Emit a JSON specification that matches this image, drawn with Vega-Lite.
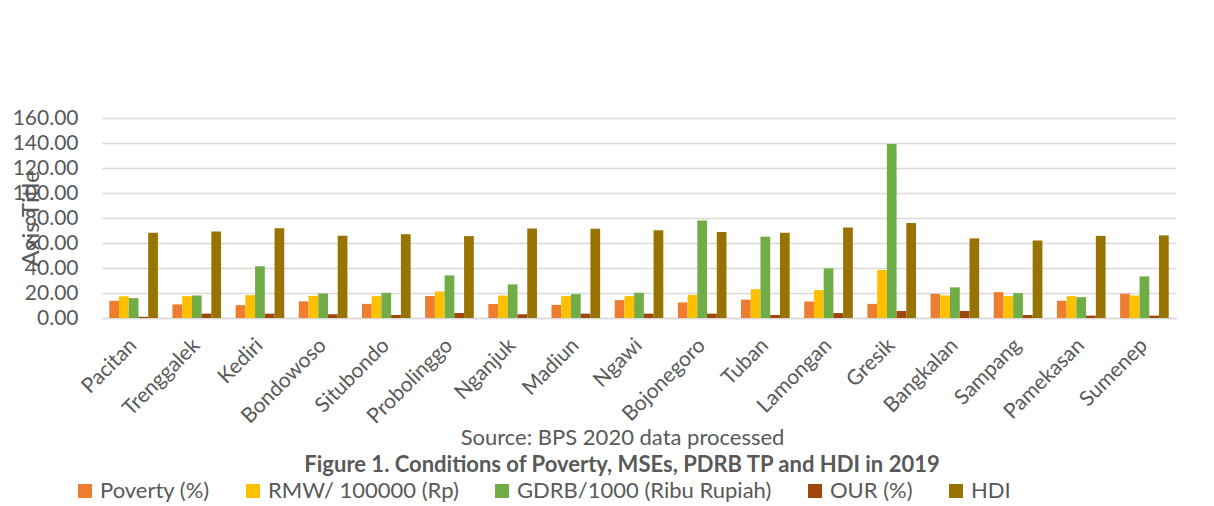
{
  "$schema": "https://vega.github.io/schema/vega-lite/v6.json",
  "width": 1074,
  "height": 200,
  "autosize": {"type": "none"},
  "padding": {"left": 102, "top": 118, "right": 38, "bottom": 188},
  "background": "white",
  "config": {"font": "Lato", "view": {"stroke": null}},
  "title": {
    "text": "Figure 1. Conditions of Poverty, MSEs, PDRB TP and HDI in 2019",
    "orient": "bottom",
    "anchor": "middle",
    "frame": "group",
    "fontSize": 22,
    "fontWeight": "bold",
    "color": "#595959",
    "dx": -17,
    "offset": -47
  },
  "data": {
    "values": [
      {"region": "Pacitan", "series": "Poverty (%)", "value": 13.7},
      {"region": "Pacitan", "series": "RMW/ 100000 (Rp)", "value": 17.5},
      {"region": "Pacitan", "series": "GDRB/1000 (Ribu Rupiah)", "value": 15.9},
      {"region": "Pacitan", "series": "OUR (%)", "value": 1.0},
      {"region": "Pacitan", "series": "HDI", "value": 68.2},
      {"region": "Trenggalek", "series": "Poverty (%)", "value": 10.9},
      {"region": "Trenggalek", "series": "RMW/ 100000 (Rp)", "value": 17.5},
      {"region": "Trenggalek", "series": "GDRB/1000 (Ribu Rupiah)", "value": 18.0},
      {"region": "Trenggalek", "series": "OUR (%)", "value": 3.5},
      {"region": "Trenggalek", "series": "HDI", "value": 69.3},
      {"region": "Kediri", "series": "Poverty (%)", "value": 10.3},
      {"region": "Kediri", "series": "RMW/ 100000 (Rp)", "value": 18.3},
      {"region": "Kediri", "series": "GDRB/1000 (Ribu Rupiah)", "value": 41.4},
      {"region": "Kediri", "series": "OUR (%)", "value": 3.5},
      {"region": "Kediri", "series": "HDI", "value": 71.8},
      {"region": "Bondowoso", "series": "Poverty (%)", "value": 13.3},
      {"region": "Bondowoso", "series": "RMW/ 100000 (Rp)", "value": 17.7},
      {"region": "Bondowoso", "series": "GDRB/1000 (Ribu Rupiah)", "value": 19.6},
      {"region": "Bondowoso", "series": "OUR (%)", "value": 3.0},
      {"region": "Bondowoso", "series": "HDI", "value": 65.8},
      {"region": "Situbondo", "series": "Poverty (%)", "value": 11.3},
      {"region": "Situbondo", "series": "RMW/ 100000 (Rp)", "value": 17.5},
      {"region": "Situbondo", "series": "GDRB/1000 (Ribu Rupiah)", "value": 20.2},
      {"region": "Situbondo", "series": "OUR (%)", "value": 2.4},
      {"region": "Situbondo", "series": "HDI", "value": 67.0},
      {"region": "Probolinggo", "series": "Poverty (%)", "value": 17.6},
      {"region": "Probolinggo", "series": "RMW/ 100000 (Rp)", "value": 21.2},
      {"region": "Probolinggo", "series": "GDRB/1000 (Ribu Rupiah)", "value": 34.1},
      {"region": "Probolinggo", "series": "OUR (%)", "value": 4.0},
      {"region": "Probolinggo", "series": "HDI", "value": 65.5},
      {"region": "Nganjuk", "series": "Poverty (%)", "value": 11.2},
      {"region": "Nganjuk", "series": "RMW/ 100000 (Rp)", "value": 18.0},
      {"region": "Nganjuk", "series": "GDRB/1000 (Ribu Rupiah)", "value": 26.9},
      {"region": "Nganjuk", "series": "OUR (%)", "value": 3.0},
      {"region": "Nganjuk", "series": "HDI", "value": 71.6},
      {"region": "Madiun", "series": "Poverty (%)", "value": 10.5},
      {"region": "Madiun", "series": "RMW/ 100000 (Rp)", "value": 17.5},
      {"region": "Madiun", "series": "GDRB/1000 (Ribu Rupiah)", "value": 19.1},
      {"region": "Madiun", "series": "OUR (%)", "value": 3.5},
      {"region": "Madiun", "series": "HDI", "value": 71.5},
      {"region": "Ngawi", "series": "Poverty (%)", "value": 14.3},
      {"region": "Ngawi", "series": "RMW/ 100000 (Rp)", "value": 17.5},
      {"region": "Ngawi", "series": "GDRB/1000 (Ribu Rupiah)", "value": 20.2},
      {"region": "Ngawi", "series": "OUR (%)", "value": 3.5},
      {"region": "Ngawi", "series": "HDI", "value": 70.3},
      {"region": "Bojonegoro", "series": "Poverty (%)", "value": 12.5},
      {"region": "Bojonegoro", "series": "RMW/ 100000 (Rp)", "value": 18.5},
      {"region": "Bojonegoro", "series": "GDRB/1000 (Ribu Rupiah)", "value": 78.0},
      {"region": "Bojonegoro", "series": "OUR (%)", "value": 3.5},
      {"region": "Bojonegoro", "series": "HDI", "value": 68.9},
      {"region": "Tuban", "series": "Poverty (%)", "value": 14.7},
      {"region": "Tuban", "series": "RMW/ 100000 (Rp)", "value": 23.1},
      {"region": "Tuban", "series": "GDRB/1000 (Ribu Rupiah)", "value": 65.1},
      {"region": "Tuban", "series": "OUR (%)", "value": 2.4},
      {"region": "Tuban", "series": "HDI", "value": 68.3},
      {"region": "Lamongan", "series": "Poverty (%)", "value": 13.2},
      {"region": "Lamongan", "series": "RMW/ 100000 (Rp)", "value": 22.3},
      {"region": "Lamongan", "series": "GDRB/1000 (Ribu Rupiah)", "value": 39.8},
      {"region": "Lamongan", "series": "OUR (%)", "value": 4.0},
      {"region": "Lamongan", "series": "HDI", "value": 72.4},
      {"region": "Gresik", "series": "Poverty (%)", "value": 11.3},
      {"region": "Gresik", "series": "RMW/ 100000 (Rp)", "value": 38.4},
      {"region": "Gresik", "series": "GDRB/1000 (Ribu Rupiah)", "value": 139.2},
      {"region": "Gresik", "series": "OUR (%)", "value": 5.6},
      {"region": "Gresik", "series": "HDI", "value": 76.1},
      {"region": "Bangkalan", "series": "Poverty (%)", "value": 19.3},
      {"region": "Bangkalan", "series": "RMW/ 100000 (Rp)", "value": 18.0},
      {"region": "Bangkalan", "series": "GDRB/1000 (Ribu Rupiah)", "value": 24.5},
      {"region": "Bangkalan", "series": "OUR (%)", "value": 5.6},
      {"region": "Bangkalan", "series": "HDI", "value": 63.7},
      {"region": "Sampang", "series": "Poverty (%)", "value": 20.7},
      {"region": "Sampang", "series": "RMW/ 100000 (Rp)", "value": 17.5},
      {"region": "Sampang", "series": "GDRB/1000 (Ribu Rupiah)", "value": 19.9},
      {"region": "Sampang", "series": "OUR (%)", "value": 2.4},
      {"region": "Sampang", "series": "HDI", "value": 62.0},
      {"region": "Pamekasan", "series": "Poverty (%)", "value": 13.8},
      {"region": "Pamekasan", "series": "RMW/ 100000 (Rp)", "value": 17.5},
      {"region": "Pamekasan", "series": "GDRB/1000 (Ribu Rupiah)", "value": 16.7},
      {"region": "Pamekasan", "series": "OUR (%)", "value": 1.9},
      {"region": "Pamekasan", "series": "HDI", "value": 65.7},
      {"region": "Sumenep", "series": "Poverty (%)", "value": 19.4},
      {"region": "Sumenep", "series": "RMW/ 100000 (Rp)", "value": 18.0},
      {"region": "Sumenep", "series": "GDRB/1000 (Ribu Rupiah)", "value": 33.3},
      {"region": "Sumenep", "series": "OUR (%)", "value": 1.9},
      {"region": "Sumenep", "series": "HDI", "value": 66.1}
    ]
  },
  "mark": {"type": "bar"},
  "encoding": {
    "x": {
      "field": "region",
      "type": "nominal",
      "sort": null,
      "scale": {"paddingInner": 0.23, "paddingOuter": 0.115},
      "axis": {
        "title": "Source: BPS 2020 data processed",
        "titleFontSize": 22,
        "titleFontWeight": "normal",
        "titleColor": "#595959",
        "titleX": 520,
        "titleY": 119,
        "titleAlign": "center",
        "titleBaseline": "middle",
        "labelAngle": -45,
        "labelAlign": "right",
        "labelBaseline": "middle",
        "labelFontSize": 21,
        "labelColor": "#595959",
        "labelPadding": 24,
        "ticks": false,
        "domainColor": "#D9D9D9",
        "domainWidth": 1.5
      }
    },
    "xOffset": {
      "field": "series",
      "type": "nominal",
      "sort": ["Poverty (%)", "RMW/ 100000 (Rp)", "GDRB/1000 (Ribu Rupiah)", "OUR (%)", "HDI"],
      "scale": {"paddingInner": 0, "paddingOuter": 0}
    },
    "y": {
      "field": "value",
      "type": "quantitative",
      "scale": {"domain": [0, 160]},
      "axis": {
        "values": [0, 20, 40, 60, 80, 100, 120, 140, 160],
        "format": ".2f",
        "labelFontSize": 21,
        "labelColor": "#595959",
        "labelPadding": 24,
        "ticks": false,
        "domain": false,
        "gridColor": "#D9D9D9",
        "gridWidth": 1.3,
        "title": "Axis Title",
        "titleFontSize": 24,
        "titleFontWeight": "normal",
        "titleColor": "#595959",
        "titleAngle": -90,
        "titleX": -71,
        "titleY": 100,
        "titleAlign": "center",
        "titleBaseline": "middle"
      }
    },
    "color": {
      "field": "series",
      "type": "nominal",
      "scale": {
        "domain": ["Poverty (%)", "RMW/ 100000 (Rp)", "GDRB/1000 (Ribu Rupiah)", "OUR (%)", "HDI"],
        "range": ["#ED7D31", "#FFC000", "#70AD47", "#9E480E", "#997300"]
      },
      "legend": {
        "orient": "none",
        "legendX": -28,
        "legendY": 362,
        "direction": "horizontal",
        "title": null,
        "symbolType": "square",
        "symbolSize": 196,
        "symbolStrokeWidth": 0,
        "labelFontSize": 22,
        "labelLimit": 0,
        "labelColor": "#595959",
        "labelOffset": 4,
        "columnPadding": 32
      }
    }
  }
}
